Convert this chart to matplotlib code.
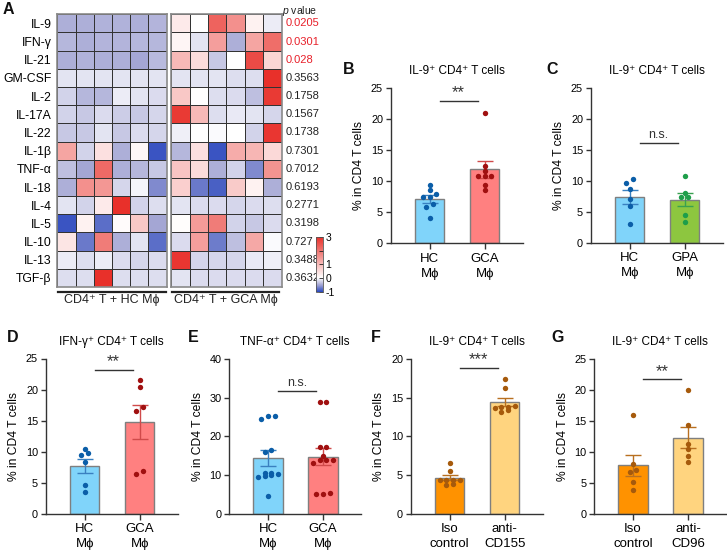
import numpy as np
import matplotlib
matplotlib.use("Agg")
import matplotlib.pyplot as plt
from matplotlib.colors import LinearSegmentedColormap, Normalize

plt.rcParams["font.family"] = ["Liberation Sans", "DejaVu Sans"]
plt.rcParams["mathtext.fontset"] = "custom"
plt.rcParams["mathtext.rm"] = "Liberation Sans"
plt.rcParams["mathtext.it"] = "Liberation Sans:italic"

# ---------------------------------------------------------------------------
# Data
# ---------------------------------------------------------------------------

CYTOKINES = ["IL-9", "IFN-γ", "IL-21", "GM-CSF", "IL-2", "IL-17A", "IL-22",
             "IL-1β", "TNF-α", "IL-18", "IL-4", "IL-5", "IL-10", "IL-13", "TGF-β"]

HC_Z = [
    [-0.45, -0.45, -0.43, -0.43, -0.44, -0.42],
    [-0.40, -0.45, -0.42, -0.42, -0.40, -0.40],
    [-0.45, -0.43, -0.45, -0.45, -0.50, -0.38],
    [-0.15, -0.15, -0.15, -0.15, -0.15, -0.15],
    [-0.25, -0.40, -0.40, -0.10, -0.15, -0.20],
    [-0.25, -0.30, -0.20, -0.28, -0.30, -0.22],
    [-0.30, -0.30, -0.15, -0.30, -0.20, -0.22],
    [1.30, -0.25, 0.45, -0.45, 0.12, -0.95],
    [-0.35, -0.50, 2.15, -0.45, -0.40, -0.30],
    [-0.45, 1.60, 1.50, -0.22, -0.05, -0.65],
    [-0.15, -0.25, 0.30, 3.00, -0.25, -0.18],
    [-0.95, 0.20, -0.80, 0.05, 0.80, -0.50],
    [0.38, -0.75, 1.90, -0.45, -0.15, -0.80],
    [-0.10, -0.18, -0.10, -0.20, -0.22, -0.20],
    [-0.18, -0.18, 3.00, -0.18, -0.18, -0.18],
]

GCA_Z = [
    [0.30, 0.00, 2.25, 1.60, 0.20, -0.10],
    [0.15, -0.15, 1.40, -0.45, 1.30, 2.10],
    [1.00, 0.50, -0.30, 0.00, 2.60, 0.60],
    [-0.15, -0.15, -0.15, -0.18, -0.18, 3.00],
    [0.80, 0.03, -0.18, -0.20, -0.35, 2.85],
    [2.85, 1.00, -0.18, -0.12, -0.15, -0.22],
    [-0.08, 0.03, -0.02, 0.00, -0.25, 2.90],
    [-0.40, 0.45, -0.95, 1.20, 1.05, 0.55],
    [0.85, 0.50, -0.45, -0.25, -0.65, 1.55],
    [0.70, -0.75, -0.88, 0.75, 0.20, -0.45],
    [-0.15, -0.20, -0.20, -0.22, -0.20, -0.18],
    [0.04, 1.45, 1.90, -0.25, -0.30, -0.20],
    [-0.20, 1.40, -0.72, -0.35, 1.25, -0.02],
    [2.90, -0.22, -0.22, -0.22, -0.12, -0.08],
    [-0.15, -0.20, -0.20, -0.20, -0.20, -0.20],
]

P_VALUES = ["0.0205", "0.0301", "0.028", "0.3563", "0.1758", "0.1567", "0.1738",
            "0.7301", "0.7012", "0.6193", "0.2771", "0.3198", "0.727", "0.3488", "0.3632"]
P_SIGNIF = [True, True, True] + [False] * 12

# bar panels: dots per group
B_HC = [9.4, 8.6, 7.9, 7.5, 7.4, 6.3, 5.8, 4.1]
B_GCA = [21.0, 12.4, 11.6, 10.9, 10.9, 10.9, 9.4, 8.6]
C_HC = [9.7, 10.3, 8.6, 7.1, 5.9, 3.0]
C_GPA = [10.7, 8.1, 7.45, 7.45, 4.5, 3.4]
D_HC = [10.5, 9.7, 9.5, 8.35, 4.55, 3.5]
D_GCA = [21.5, 20.4, 16.6, 17.2, 6.4, 6.8]
E_HC = [25.2, 25.2, 24.6, 16.5, 16.0, 10.6, 10.0, 10.3, 9.5, 10.6, 9.7, 4.7]
E_GCA = [28.8, 28.8, 17.2, 17.2, 14.9, 13.8, 13.8, 13.8, 13.2, 5.0, 5.4, 5.2]
F_ISO = [6.6, 5.5, 4.4, 4.35, 4.4, 4.35, 3.7, 3.85]
F_ANTI = [17.4, 16.3, 13.9, 13.8, 13.8, 13.7, 13.2, 13.4]
G_ISO = [15.9, 8.0, 6.8, 7.05, 5.1, 3.9]
G_ANTI = [20.0, 14.3, 11.3, 10.45, 9.4, 8.3]

# ---------------------------------------------------------------------------
# Styling
# ---------------------------------------------------------------------------

W, H = 727, 552
C_AX = "#333333"
C_EDGE = "#7f7f7f"
STYLE = {
    "HC":   ("#80d4fa", "#0b5ea8", "#3a80c0"),
    "GCA":  ("#ff8080", "#a01010", "#d04a4a"),
    "GPA":  ("#8dc63f", "#1e9e4a", "#3aa050"),
    "ISO":  ("#ff9200", "#a65a0c", "#b87020"),
    "ANTI": ("#ffd47f", "#a65a0c", "#b87020"),
}

CMAP = LinearSegmentedColormap.from_list(
    "hm", [(0.0, "#2f4cc0"), (0.125, "#a4a6d4"), (0.25, "#ffffff"), (1.0, "#e8302a")])
NORM = Normalize(vmin=-1, vmax=3)


def px_axes(fig, x0, y0, x1, y1):
    return fig.add_axes([x0 / W, 1 - y1 / H, (x1 - x0) / W, (y1 - y0) / H])


def swarm(vals, ymax):
    # spread points with near-equal values sideways, like a GraphPad scatter
    vals = np.asarray(vals, dtype=float)
    order = np.argsort(vals)
    thr = ymax * 0.025
    groups = []
    for i in order:
        if groups and vals[i] - vals[groups[-1][0]] < thr:
            groups[-1].append(i)
        else:
            groups.append([i])
    offs = np.zeros(len(vals))
    for g in groups:
        k = len(g)
        for j, idx in enumerate(g):
            offs[idx] = (j - (k - 1) / 2) * 0.12
    return offs


def bar_panel(ax, data, keys, labels, ymax, ystep, sig, sig_y, title):
    for x, (vals, key) in enumerate(zip(data, keys)):
        fc, dc, ec = STYLE[key]
        vals = np.asarray(vals)
        mean = vals.mean()
        sem = vals.std(ddof=1) / np.sqrt(len(vals))
        ax.bar(x, mean, width=0.53, color=fc, edgecolor=C_EDGE, linewidth=1, zorder=2)
        ax.errorbar(x, mean, yerr=sem, color=ec, lw=1, capsize=6, capthick=1, zorder=3)
        ax.scatter(x + swarm(vals, ymax), vals, s=15, color=dc, linewidths=0, zorder=4)
    ax.plot([0.18, 0.87], [sig_y, sig_y], color=C_AX, lw=1, clip_on=False)
    if "*" in sig:
        ax.text(0.525, sig_y + ymax * 0.005, sig, ha="center", va="bottom",
                fontsize=12, color=C_AX)
    else:
        ax.text(0.525, sig_y + ymax * 0.012, sig, ha="center", va="bottom",
                fontsize=9, color=C_AX)
    ax.set_xlim(-0.71, 1.69)
    ax.set_ylim(0, ymax)
    ax.set_yticks(np.arange(0, ymax + 0.1, ystep))
    ax.set_xticks([0, 1])
    ax.set_xticklabels(labels, fontsize=9.5, linespacing=1.3)
    ax.tick_params(axis="y", labelsize=7.8, length=3.5, width=1, color=C_AX, pad=2)
    ax.tick_params(axis="x", length=4, width=1, color=C_AX, pad=3)
    for s in ("top", "right"):
        ax.spines[s].set_visible(False)
    for s in ("left", "bottom"):
        ax.spines[s].set_color(C_AX)
        ax.spines[s].set_linewidth(1)
    ax.set_ylabel("% in CD4 T cells", fontsize=8.7, labelpad=4)
    ax.set_title(title, fontsize=8.5, pad=10)


fig = plt.figure(figsize=(W / 100, H / 100), dpi=100)

# ---------------------------------------------------------------------------
# Panel A: heatmap
# ---------------------------------------------------------------------------
ax_hc = px_axes(fig, 57.3, 14.3, 166.7, 287)
ax_gca = px_axes(fig, 171.3, 14.3, 281.5, 287)
for ax, Z in ((ax_hc, HC_Z), (ax_gca, GCA_Z)):
    mesh = ax.pcolormesh(np.array(Z), cmap=CMAP, norm=NORM,
                         edgecolors="#333333", linewidth=0.7)
    ax.set_xlim(0, 6)
    ax.set_ylim(len(CYTOKINES), 0)
    ax.set_xticks([])
    ax.set_yticks([])
    for s in ax.spines.values():
        s.set_color("#8a8a8a")
        s.set_linewidth(1.2)

ax_hc.set_yticks(np.arange(len(CYTOKINES)) + 0.5)
ax_hc.set_yticklabels(CYTOKINES, fontsize=8.8)
ax_hc.tick_params(axis="y", length=0, pad=4)

for i, (p, sgn) in enumerate(zip(P_VALUES, P_SIGNIF)):
    ax_gca.text(6.2, i + 0.5, p, ha="left", va="center", fontsize=8,
                color="#e8202a" if sgn else "#222222", clip_on=False)
ax_gca.text(7.0, -0.2, r"$\it{p}$ value", ha="center", va="center",
            fontsize=7.5, color="#222222", clip_on=False)

for x0, x1, lab in ((58, 166, "CD4⁺ T + HC Mϕ"), (172, 279, "CD4⁺ T + GCA Mϕ")):
    fig.add_artist(plt.Line2D([x0 / W, x1 / W], [1 - 292.3 / H] * 2,
                              color="#222222", lw=1.6))
    fig.text((x0 + x1) / 2 / W, 1 - 300.5 / H, lab, ha="center", va="center",
             fontsize=9, color="#222222")

cax = px_axes(fig, 315.7, 237, 322.7, 291.7)
cb = fig.colorbar(mesh, cax=cax, ticks=[-1, 0, 1, 2, 3])
cb.ax.set_yticklabels(["-1", "0", "1", "", "3"])
cb.ax.tick_params(labelsize=7.5, length=3, direction="in", width=0.6, color="#222222", pad=2)
cb.outline.set_color("#555555")
cb.outline.set_linewidth(0.6)

# ---------------------------------------------------------------------------
# Bar panels
# ---------------------------------------------------------------------------
MPHI = ["HC\nMϕ", "GCA\nMϕ"]
IL9 = "IL-9⁺ CD4⁺ T cells"

ax_b = px_axes(fig, 390.7, 88.3, 522.7, 243.3)
bar_panel(ax_b, [B_HC, B_GCA], ["HC", "GCA"], MPHI, 25, 5, "**", 23.0, IL9)

ax_c = px_axes(fig, 590.7, 88.0, 722.7, 242.7)
bar_panel(ax_c, [C_HC, C_GPA], ["HC", "GPA"], ["HC\nMϕ", "GPA\nMϕ"], 25, 5, "n.s.", 16.1, IL9)

ax_d = px_axes(fig, 45.7, 358.5, 177.7, 513.7)
bar_panel(ax_d, [D_HC, D_GCA], ["HC", "GCA"], MPHI, 25, 5, "**", 23.1,
          "IFN-γ⁺ CD4⁺ T cells")

ax_e = px_axes(fig, 229, 359, 361, 513.7)
bar_panel(ax_e, [E_HC, E_GCA], ["HC", "GCA"], MPHI, 40, 10, "n.s.", 31.8,
          "TNF-α⁺ CD4⁺ T cells")

ax_f = px_axes(fig, 410.7, 359, 542.7, 513.7)
bar_panel(ax_f, [F_ISO, F_ANTI], ["ISO", "ANTI"], ["Iso\ncontrol", "anti-\nCD155"],
          20, 5, "***", 18.9, IL9)

ax_g = px_axes(fig, 594, 359, 726, 513.7)
bar_panel(ax_g, [G_ISO, G_ANTI], ["ISO", "ANTI"], ["Iso\ncontrol", "anti-\nCD96"],
          25, 5, "**", 21.7, IL9)

# panel letters
for lab, x, y in (("A", 3, 10), ("B", 343, 70), ("C", 546, 70), ("D", 7, 338),
                  ("E", 188, 338), ("F", 371, 338), ("G", 551, 338)):
    fig.text(x / W, 1 - y / H, lab, ha="left", va="center", fontsize=11.5,
             fontweight="bold", color="#111111")

fig.savefig("out.png", dpi=100, facecolor="white")
